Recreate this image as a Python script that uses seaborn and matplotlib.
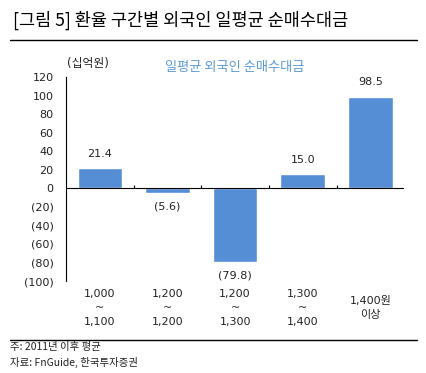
import numpy as np
import pandas as pd
import seaborn as sns
import matplotlib.pyplot as plt
from matplotlib.lines import Line2D

# data
categories = ["1,000\n~\n1,100", "1,200\n~\n1,200", "1,200\n~\n1,300",
              "1,300\n~\n1,400", "1,400원\n이상"]
values = [21.4, -5.6, -79.8, 15.0, 98.5]
value_labels = ["21.4", "(5.6)", "(79.8)", "15.0", "98.5"]
yticks = [-100, -80, -60, -40, -20, 0, 20, 40, 60, 80, 100, 120]

sns.set_style("white")
plt.rcParams['font.family'] = ['DejaVu Sans', 'Noto Sans CJK KR']
txt = "#222222"

df = pd.DataFrame({"구간": categories, "순매수": values})

fig = plt.figure(figsize=(4.27, 3.73), dpi=100)
ax = fig.add_axes([0.1546, 0.2466, 0.792, 0.547])

sns.barplot(data=df, x="구간", y="순매수", color="#558ED5", width=0.66,
            saturation=1, ax=ax)

ax.set_ylim(-100, 120)
ax.set_xlim(-0.5, len(categories) - 0.5)
ax.set_yticks(yticks)
ax.set_yticklabels([f"({-t})" if t < 0 else str(t) for t in yticks],
                   fontsize=8, color=txt)
ax.tick_params(axis="y", direction="in", length=3, width=0.8, pad=9)
ax.tick_params(axis="x", length=0, pad=19.5, labelsize=8, labelcolor=txt)
for lab in ax.get_xticklabels():
    lab.set_verticalalignment("center")
    lab.set_linespacing(1.5)
ax.set_xlabel("")
ax.set_ylabel("")
for s in ["top", "right", "bottom"]:
    ax.spines[s].set_visible(False)
ax.spines["left"].set_linewidth(0.8)
ax.spines["left"].set_color("black")

# zero line with small upward ticks between categories
ax.axhline(0, color="black", linewidth=0.8)
ax.vlines(np.arange(len(categories) - 1) + 0.5, 0, 3.5, color="black", linewidth=0.8)

# value labels
for i, (v, lab) in enumerate(zip(values, value_labels)):
    if v >= 0:
        ax.annotate(lab, (i, v), xytext=(0, 7), textcoords="offset points",
                    ha="center", va="bottom", fontsize=8, color=txt)
    else:
        ax.annotate(lab, (i, v), xytext=(0, -6), textcoords="offset points",
                    ha="center", va="top", fontsize=8, color=txt)

ax.set_title("일평균 외국인 순매수대금", fontsize=9.5, color="#5B9BD5", pad=4,
             family=['Noto Sans CJK KR'])
fig.text(0.206, 0.829, "(십억원)", fontsize=8.5, color=txt, ha="center", va="center")

# header / footer
fig.text(0.03, 0.945, "[그림 5] 환율 구간별 외국인 일평균 순매수대금",
         fontsize=12.6, color="black", ha="left", va="center",
         family=['Noto Sans CJK KR'])
fig.add_artist(Line2D([0.023, 0.977], [0.893, 0.893], color="black", linewidth=1))
fig.add_artist(Line2D([0.023, 0.977], [0.088, 0.088], color="black", linewidth=1))
fig.text(0.023, 0.07, "주: 2011년 이후 평균", fontsize=7.5, color=txt, ha="left", va="center",
         family=['Noto Sans CJK KR'])
fig.text(0.023, 0.028, "자료: FnGuide, 한국투자증권", fontsize=7.5, color=txt, ha="left", va="center",
         family=['Noto Sans CJK KR'])

fig.savefig("out.png", dpi=100)
